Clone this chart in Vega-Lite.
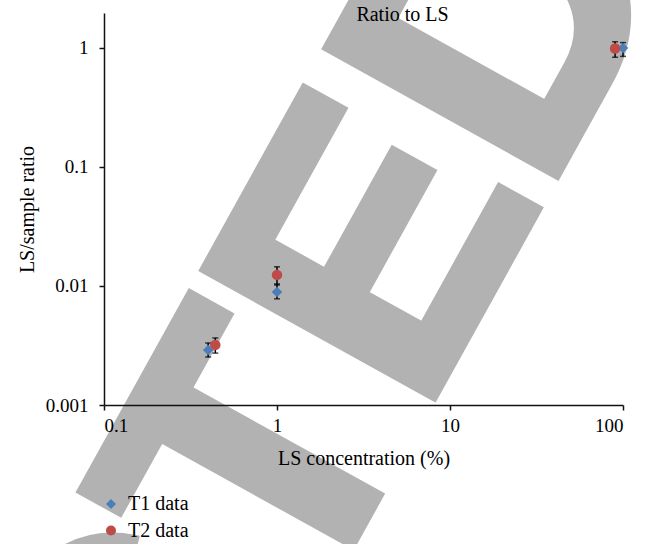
{
  "$schema": "https://vega.github.io/schema/vega-lite/v6.json",
  "width": 519,
  "height": 392,
  "autosize": {"type": "none"},
  "padding": {"left": 104, "top": 13, "right": 32, "bottom": 139},
  "background": "white",
  "config": {
    "font": "Liberation Serif",
    "view": {"stroke": null},
    "axis": {
      "zindex": 1,
      "grid": false,
      "domainColor": "#111111",
      "domainWidth": 1.5,
      "tickColor": "#111111",
      "tickWidth": 1.5,
      "tickSize": 5,
      "labelColor": "#000000",
      "titleColor": "#000000",
      "labelFont": "Liberation Serif",
      "titleFont": "Liberation Serif",
      "labelFontSize": 19,
      "titleFontSize": 20,
      "titleFontWeight": "normal"
    }
  },
  "resolve": {"axis": {"x": "independent"}},
  "datasets": {
    "watermark": [{"x": 0.26, "y": 1.472e-7, "text": "CTED"}],
    "points": [
      {"series": "T1 data", "x": 0.4, "y": 0.0029, "lo": 0.00253, "hi": 0.00332},
      {"series": "T1 data", "x": 1.0, "y": 0.0089, "lo": 0.0078, "hi": 0.0104},
      {"series": "T1 data", "x": 100, "y": 1.0, "lo": 0.85, "hi": 1.11},
      {"series": "T2 data", "x": 0.44, "y": 0.0032, "lo": 0.00273, "hi": 0.00366},
      {"series": "T2 data", "x": 1.0, "y": 0.0124, "lo": 0.0102, "hi": 0.0145},
      {"series": "T2 data", "x": 90, "y": 0.99, "lo": 0.835, "hi": 1.13}
    ]
  },
  "layer": [
    {
      "data": {"name": "watermark"},
      "mark": {
        "type": "text",
        "font": "Liberation Sans",
        "fontWeight": "bold",
        "fontSize": 380,
        "angle": -61,
        "align": "left",
        "baseline": "alphabetic",
        "color": "#b2b2b2",
        "stroke": "#b2b2b2",
        "strokeWidth": 10,
        "strokeJoin": "miter"
      },
      "encoding": {
        "x": {"field": "x", "type": "quantitative", "scale": {"type": "log", "domain": [0.1, 100], "nice": false}, "axis": {"values": [0.1, 1, 10, 100], "format": "~r", "title": "LS concentration (%)", "labelPadding": 6, "titlePadding": 13, "zindex": 2}},
        "y": {"field": "y", "type": "quantitative", "title": "LS/sample ratio", "scale": {"type": "log", "domain": [0.001, 1.968], "nice": false}, "axis": {"values": [0.001, 0.01, 0.1, 1], "format": "~r", "title": "LS/sample ratio", "labelPadding": 11, "titlePadding": 8, "zindex": 2}},
        "text": {"field": "text"}
      }
    },
    {
      "data": {"name": "points"},
      "mark": {"type": "errorbar", "color": "#000000", "thickness": 1.5, "ticks": {"size": 6, "color": "#000000", "thickness": 1.5}},
      "encoding": {
        "x": {"field": "x", "type": "quantitative", "axis": null},
        "y": {"field": "lo", "type": "quantitative", "title": "LS/sample ratio"},
        "y2": {"field": "hi"}
      }
    },
    {
      "data": {"name": "points"},
      "mark": {"type": "point", "filled": true, "size": 110, "opacity": 1},
      "encoding": {
        "x": {
          "field": "x", "type": "quantitative",
          "axis": {"orient": "top", "title": "Ratio to LS", "domain": false, "ticks": false, "labels": false, "titleX": 298, "titleY": 7, "titleAlign": "center", "titleBaseline": "alphabetic", "titleAngle": 0, "titleFontSize": 20, "zindex": 2}
        },
        "y": {"field": "y", "type": "quantitative", "title": "LS/sample ratio"},
        "color": {
          "field": "series", "type": "nominal",
          "scale": {"domain": ["T1 data", "T2 data"], "range": ["#4a7ebb", "#be4b48"]},
          "legend": {"orient": "none", "legendX": -3, "legendY": 481, "title": null, "labelFontSize": 20, "labelFont": "Liberation Serif", "labelColor": "#000000", "symbolSize": 100, "rowPadding": 6.5, "labelOffset": 7, "padding": 0, "zindex": 2}
        },
        "shape": {
          "field": "series", "type": "nominal",
          "scale": {"domain": ["T1 data", "T2 data"], "range": ["diamond", "circle"]},
          "legend": {"orient": "none", "legendX": -3, "legendY": 481, "title": null, "labelFontSize": 20, "labelFont": "Liberation Serif", "labelColor": "#000000", "symbolSize": 100, "rowPadding": 6.5, "labelOffset": 7, "padding": 0, "zindex": 2}
        }
      }
    }
  ]
}
